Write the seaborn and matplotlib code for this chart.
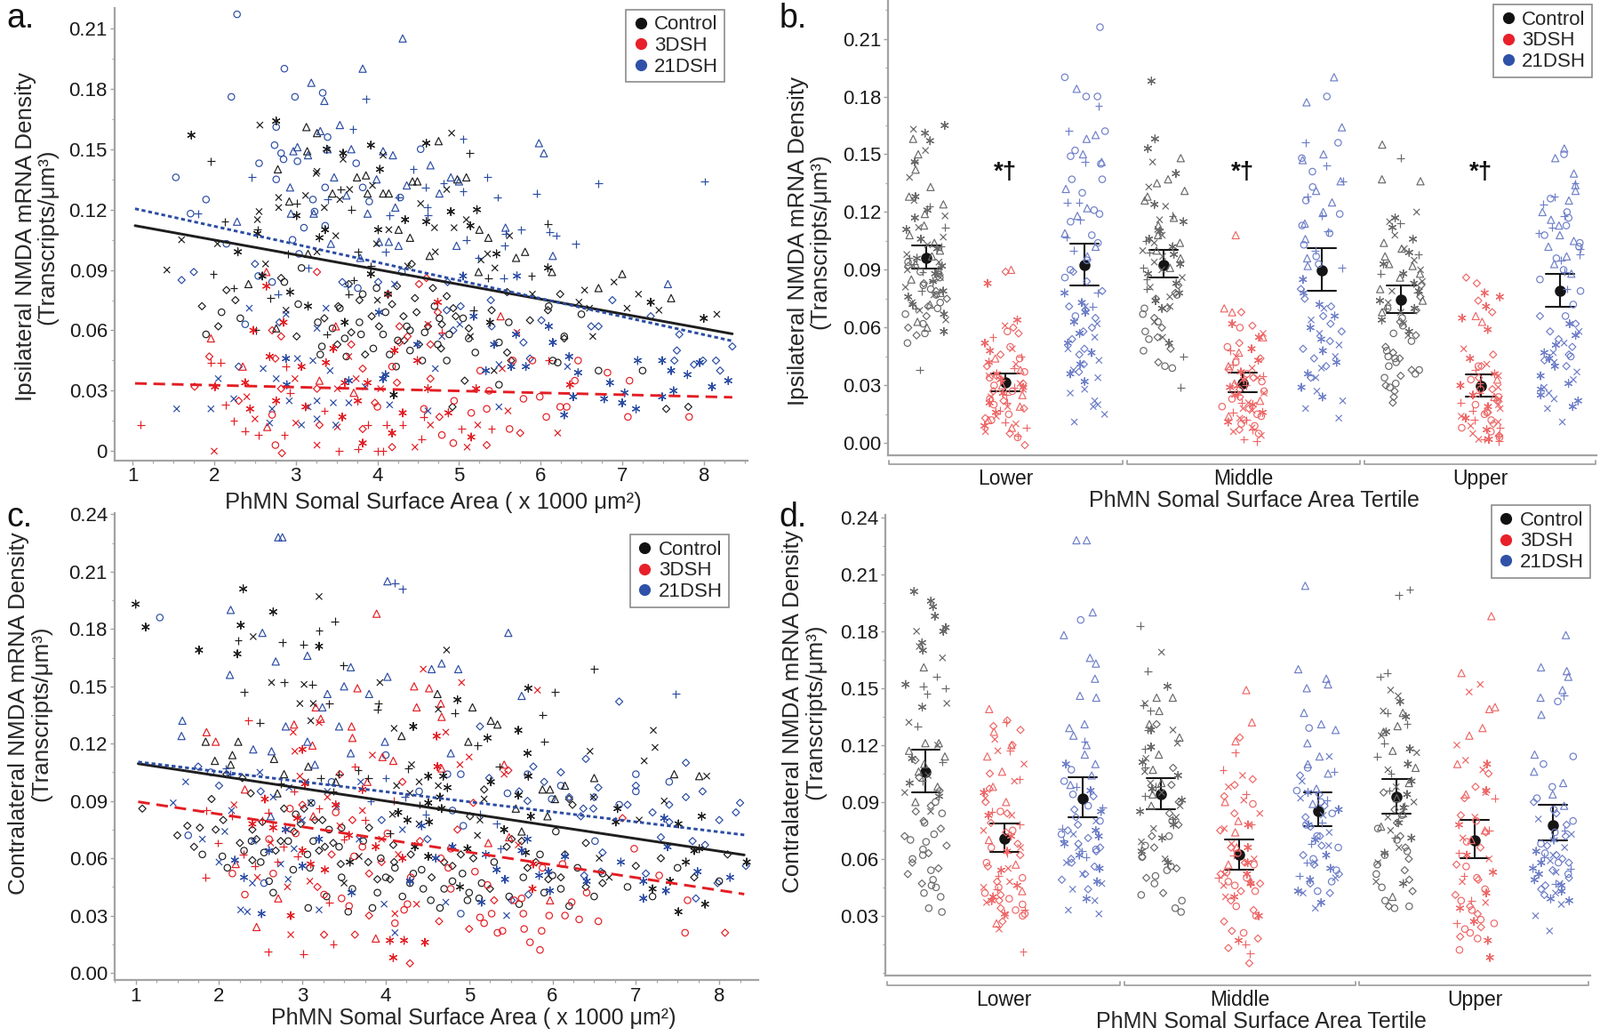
import warnings
warnings.filterwarnings('ignore')
import numpy as np
import pandas as pd
import matplotlib
matplotlib.use('Agg')
import matplotlib.pyplot as plt
from matplotlib.lines import Line2D
from matplotlib.ticker import MultipleLocator
from matplotlib.transforms import blended_transform_factory
import seaborn as sns

sns.set_style('ticks')
REG = ['Liberation Sans', 'DejaVu Sans']
plt.rcParams['font.family'] = REG
np.random.seed(7)

GROUPS = ['Control', '3DSH', '21DSH']
TERTILES = ['Lower', 'Middle', 'Upper']
MK_ORDER = ['d', 'o', 't', 'x', 'p', 'a']
MARKERS = {'t': '^', 'o': 'o', 'd': 'D', 'x': 'x', 'p': '+', 'a': (6, 2, 0)}
MS = {'t': 34, 'o': 28, 'd': 17, 'x': 26, 'p': 40, 'a': 40}

# ---------------- panel a data: (area x100, density x1000) ----------------
a_ctrl = dict(
    t=[(242,83),(278,140),(292,124),(313,161),(326,158),(314,149),(345,128),(375,136),(386,137),(388,128),(407,128),(414,128),(475,154),(443,134),(449,134),(498,135),(509,136),(525,110),(536,106),(581,99),(570,96),(614,89),(524,89),(671,81),(276,61),(315,98),(426,110),(440,106),(464,97),(700,88),(760,76)],
    x=[(142,90),(160,105),(204,103),(256,162),(255,119),(253,115),(263,93),(279,126),(279,121),(312,127),(325,138),(335,121),(366,130),(354,125),(358,145),(326,139),(394,132),(407,147),(491,158),(485,130),(453,123),(509,115),(494,111),(535,98),(562,107),(544,91),(527,95),(590,78),(654,80),(647,74),(660,71),(706,71),(664,57),(514,57),(400,75),(288,70),(326,99),(349,107),(399,103),(414,110),(470,111),(471,99),(437,92),(543,40),(816,68),(690,84),(720,78),(745,70)],
    a=[(172,157),(229,99),(259,87),(276,164),(253,108),(301,117),(338,150),(336,110),(358,148),(392,152),(403,140),(460,153),(490,119),(522,120),(514,112),(546,98),(609,91),(413,78),(392,88),(420,28),(360,64),(315,72),(293,79),(329,106),(401,110),(434,115),(460,114),(538,64),(735,74),(800,66)],
    p=[(196,144),(199,88),(213,114),(224,81),(253,110),(269,76),(251,60),(301,123),(355,130),(368,120),(513,148),(609,113),(589,87),(536,86),(518,70),(338,58),(290,98),(376,99),(392,92),(371,85),(365,78)],
    o=[(209,69),(650,68),(561,64),(671,40),(725,40),(621,44),(549,54),(458,59),(474,53),(512,56),(485,45),(436,62),(407,58),(382,78),(399,81),(440,50),(423,42),(354,71),(360,56),(332,52),(327,64),(303,73),(307,91),(286,84),(476,66),(610,72),(629,57),(549,33),(615,45),
       (330,48),(345,61),(362,47),(378,64),(395,51),(410,69),(425,55),(440,60),(455,45),(470,72),(488,58),(505,66),(520,49),(380,58),(415,48),(190,58),(232,66)],
    d=[(226,75),(559,79),(624,78),(609,70),(587,65),(629,56),(754,21),(781,22),(507,35),(564,45),(485,77),(468,81),(448,69),(451,53),(493,71),(479,63),(424,82),(393,67),(378,75),(432,67),(365,83),(351,53),(301,57),(282,86),(442,93),(559,49),(492,22),
       (335,66),(352,72),(368,59),(385,48),(402,62),(418,73),(433,55),(446,76),(462,62),(478,51),(496,67),(512,61),(540,70),(185,72),(205,62),(215,80)])
a_3dsh = dict(
    t=[(196,56),(235,42),(265,12),(264,89),(329,35),(349,62),(371,29),(551,67)],
    d=[(194,47),(176,32),(230,25),(271,60),(282,57),(326,89),(275,46),(282,31),(283,-1),(326,31),(329,13),(368,53),(382,41),(397,24),(382,11),(418,2),(427,62),(413,78),(427,54),(424,34),(437,57),(460,86),(451,83),(474,69),(465,53),(465,36),(476,17),(534,3),(575,9)],
    a=[(201,32),(238,34),(244,21),(264,82),(248,60),(285,64),(268,47),(307,42),(276,25),(312,22),(337,44),(346,51),(357,17),(360,34),(376,25),(388,34),(382,4),(421,50),(431,19),(418,9),(474,74),(449,45),(462,31),(487,19),(515,7),(521,31),(636,33)],
    x=[(200,0),(240,27),(250,16),(299,36),(300,14),(326,3),(351,31),(351,12),(365,47),(374,36),(404,31),(462,63),(465,13),(446,2),(510,2),(523,13),(553,41),(571,59),(560,20),(621,9)],
    p=[(110,13),(196,44),(208,44),(214,23),(224,15),(238,10),(254,8),(288,42),(293,29),(286,8),(353,0),(335,20),(388,13),(376,1),(407,0),(400,0),(411,13),(431,13),(479,59),(457,17),(454,6),(503,11),(540,11),(610,45)],
    o=[(271,18),(275,3),(400,22),(418,42),(457,21),(479,8),(494,25),(493,4),(515,19),(534,21),(537,30),(526,40),(566,45),(562,11),(579,26),(590,45),(599,27),(607,17),(624,22),(632,22),(642,35),(646,45),(682,39),(707,17),(709,35),(782,17)])
a_21dsh = dict(
    o=[(153,136),(171,118),(221,176),(228,217),(215,103),(255,143),(286,190),(299,176),(333,178),(276,161),(274,152),(282,148),(285,145),(276,135),(302,144),(339,156),(374,143),(453,150),(336,131),(382,131),(321,125),(390,124),(428,126),(323,119),(310,111),(336,112),(296,105),(304,98),(254,87),(271,84),(238,63),(376,81),(430,89),(190,125)],
    t=[(228,114),(319,183),(335,174),(382,190),(431,205),(297,149),(302,151),(315,147),(330,159),(354,162),(339,150),(368,150),(407,149),(419,147),(465,142),(598,153),(604,148),(490,136),(500,134),(476,128),(293,131),(347,136),(399,135),(436,132),(362,127),(422,121),(294,118),(322,118),(388,118),(414,104),(402,104),(426,102),(343,103),(557,111),(615,97),(497,102),(756,83),(379,96)],
    p=[(180,118),(246,136),(386,175),(370,160),(505,155),(444,140),(535,136),(671,133),(595,128),(547,126),(505,129),(481,133),(459,131),(426,126),(339,125),(461,121),(415,117),(462,117),(557,108),(576,110),(611,109),(619,107),(643,103),(556,102),(509,105),(524,96),(801,134),(315,91),(410,99),(278,78),(363,82),(555,86)],
    d=[(160,85),(175,89),(230,42),(250,93),(280,64),(357,84),(401,84),(486,84),(539,75),(502,72),(485,70),(493,60),(540,62),(579,54),(601,65),(587,46),(662,62),(671,62),(688,75),(735,67),(770,58),(767,50),(764,45),(788,43),(799,45),(815,45),(835,52),(820,40)],
    x=[(154,21),(196,21),(205,36),(224,26),(243,71),(288,68),(326,61),(337,71),(421,83),(479,57),(501,63),(549,43),(633,42),(549,22),(415,23),(365,24),(346,24),(326,25),(326,16),(307,13),(315,22),(292,25),(276,36),(260,41),(271,21),(268,14),(302,46),(321,45),(342,40),(349,13),(385,32),(462,20),(471,41)],
    a=[(402,69),(505,87),(571,87),(518,67),(543,53),(570,58),(610,62),(582,42),(615,54),(635,47),(646,39),(719,45),(749,45),(685,34),(703,29),(763,30),(717,21),(700,24),(678,26),(749,27),(640,27),(629,18),(407,36),(289,33),(288,46),(365,35),(410,38),(449,53),(533,40),(564,42),(830,35),(780,38),(810,32),(760,40),(795,44)])

# ---------------- panel c data: (area x100, density x1000) ----------------
c_ctrl = dict(
    t=[(184,121),(223,121),(195,111),(462,146),(504,139),(499,121),(526,132),(534,130),(746,104),(776,103),(650,102),(588,96),(597,96),(615,98),(603,91),(594,82),(556,86),(563,74),(340,100),(307,108),(270,94),(278,104),(266,112),(214,109),(216,114),(419,124)],
    x=[(241,176),(263,152),(320,197),(302,151),(313,141),(297,141),(310,132),(393,152),(410,128),(463,138),(473,169),(645,116),(721,127),(723,118),(710,111),(785,103),(649,92),(734,90),(704,80),(668,50),(656,60),(518,91),(510,72),(513,80),(463,98),(440,100),(431,109),(440,78),(429,94),(413,98),(408,83),(368,61),(350,47),(304,100),(310,89)],
    a=[(100,193),(112,181),(176,169),(229,201),(226,182),(222,167),(265,189),(320,171),(433,129),(486,143),(522,123),(559,127),(570,115),(571,149),(678,86),(676,79),(779,82),(770,64),(776,65),(751,78),(833,58),(751,32),(783,36),(741,48),(571,103),(574,82),(568,63),(559,93),(542,75),(526,100),(498,65),(489,45),(467,86),(465,92),(474,97),(469,103),(451,103),(452,79),(451,61),(451,89),(426,80),(435,66),(415,84),(357,58),(720,44),(760,58)],
    p=[(223,174),(230,147),(276,173),(278,152),(320,179),(301,172),(312,151),(339,184),(249,131),(332,141),(349,161),(391,141),(390,138),(483,136),(510,119),(650,159),(603,147),(588,135),(590,121),(536,108),(427,107),(440,88),(405,73),(379,102),(367,106),(344,104),(337,95),(322,102),(274,99)],
    o=[(204,61),(604,74),(600,51),(498,38),(512,39),(465,34),(454,38),(443,54),(433,52),(429,47),(411,55),(390,42),(394,60),(373,69),(384,34),(360,44),(347,50),(344,66),(355,32),(347,76),(332,75),(313,69),(306,62),(309,55),(329,40),(307,34),(292,83),(283,69),(289,54),(265,42),(254,63),(239,69),
       (470,44),(492,52),(515,47),(530,58),(548,40),(565,50),(585,62),(610,44),(630,55),(650,40),
       (560,36),(590,42),(620,35),(660,52),(690,45),(720,40),(750,55),(800,48),(400,50),(420,40),(445,44),(480,48),(500,42),
       (180,62),(210,55),(230,64),(250,58),(260,48)],
    d=[(108,86),(191,91),(162,77),(177,76),(196,75),(620,91),(624,88),(563,69),(551,70),(518,96),(501,82),(490,62),(409,67),(405,49),(390,49),(380,76),(379,58),(346,57),(337,68),(324,80),(315,80),(327,66),(320,64),(302,86),(298,78),(278,86),(290,74),(274,69),(268,64),(252,79),(245,70),(240,59),(228,102),(209,104),(238,94),
       (480,56),(505,60),(525,44),(545,66),(570,55),(595,49),(615,62),(640,68),(660,47),
       (580,58),(610,50),(640,45),(700,56),(730,60),(770,50),(810,62),(410,58),(430,62),(455,50),(470,58),
       (150,72),(170,66),(205,80),(225,68),(240,75)])
c_3dsh = dict(
    t=[(185,126),(196,121),(220,57),(231,96),(245,24),(271,39),(290,130),(312,119),(316,139),(322,133),(313,82),(366,149),(359,129),(360,123),(389,188),(396,113),(409,111),(378,100),(388,18),(434,150),(437,139),(452,149),(466,141),(467,134),(467,107),(542,109),(523,68),(548,71),(597,38)],
    x=[(218,88),(246,50),(282,45),(286,20),(289,126),(291,116),(297,103),(320,131),(309,48),(384,114),(411,31),(437,36),(472,126),(489,109),(491,152),(500,113),(582,148),(559,67),(542,104),(445,159),(330,92),(345,77),(372,85),(395,70),(282,75),(262,68),(415,62)],
    a=[(286,30),(300,117),(303,99),(294,81),(310,57),(327,54),(372,96),(405,17),(422,17),(409,8),(447,16),(462,108),(461,124),(576,44),(577,57),(265,76),(340,88),(356,72),(388,66),(420,60),(255,91),(240,78),(300,64)],
    p=[(185,85),(184,50),(199,68),(216,82),(235,132),(229,62),(243,56),(259,11),(259,84),(252,80),(277,66),(294,61),(301,10),(337,15),(332,37),(363,108),(320,86),(350,70),(375,80),(410,90),(290,95),(270,58)],
    o=[(216,52),(231,41),(265,52),(292,73),(326,41),(362,61),(347,39),(356,35),(411,26),(422,33),(426,36),(478,44),(466,60),(478,65),(475,55),(507,53),(522,46),(513,29),(527,31),(518,26),(534,21),(540,22),(554,38),(563,39),(565,31),(566,23),(573,16),(585,12),(587,22),(596,30),(615,30),(623,37),(632,28),(641,42),(655,27),(698,65),(588,55),(612,57),(762,38),(759,21),(728,51),(340,84),(372,66),(402,73),(285,86),(260,70),(430,50)],
    d=[(318,45),(326,20),(363,20),(380,30),(429,5),(464,27),(441,69),(486,75),(530,38),(500,23),(547,106),(684,81),(807,21),(505,89),(300,88),(335,62),(360,80),(395,58),(420,100),(380,52),(345,104)])
c_21dsh = dict(
    t=[(156,132),(155,124),(214,190),(213,156),(252,178),(268,163),(271,228),(276,228),(306,166),(330,146),(324,139),(350,150),(358,160),(402,155),(380,146),(402,205),(455,159),(467,162),(487,159),(547,178),(563,145),(241,117),(263,116),(280,129),(306,121),(315,109),(344,129),(358,115),(399,121),(478,115),(262,82)],
    o=[(163,72),(129,186),(400,114),(474,104),(490,104),(546,94),(599,91),(311,89),(493,77),(254,47),(490,31),(651,69),(335,100),(440,95),(480,85),(570,104),(610,98),(700,95),(700,104),(680,88),(740,100),(190,105)],
    p=[(411,204),(420,201),(748,146),(208,107),(213,104),(400,102),(423,92),(382,90),(448,83),(513,83),(533,78),(538,65)],
    d=[(680,142),(513,129),(524,102),(577,108),(570,90),(551,38),(571,41),(649,86),(638,51),(658,53),(660,63),(712,52),(730,71),(740,79),(768,69),(783,67),(772,39),(798,47),(825,89),(832,56),(637,86),(634,82),(395,80),(450,70),(250,95),
       (560,95),(590,100),(620,92),(655,97),(690,88),(720,84),(760,92),(800,80),(640,112),(760,110),(610,105),(650,92),(700,98),(740,88),(780,95),(820,84),(175,108),(200,98)],
    x=[(145,89),(249,105),(265,92),(284,97),(341,87),(207,74),(241,69),(240,47),(226,33),(234,32),(274,57),(283,49),(290,65),(320,33),(368,70),(398,36),(411,21),(472,37),(545,30),(370,100),(330,95),(420,75),(300,80),(180,70),(200,58),(215,85),(160,100)],
    a=[(443,77),(570,70),(563,64),(543,49),(533,54),(584,51),(595,53),(597,43),(615,61),(641,48),(682,58),(709,48),(709,39),(736,43),(738,66),(774,53),(813,50),(734,81),(219,59),(251,31),(359,42),(429,48),(515,37),(460,60),(480,66),(520,62),
       (230,50),(260,64),(280,75),(300,56),(320,70)])

# ---------------- panel b data: density x1000 per tertile / group ----------------
b_lower_ctrl = dict(t=[158,150,142,133,128,124,119,113,108,104,100,97,93,90,85,78,72,63,60],
    a=[165,161,157,146,128,121,117,111,106,101,96,92,88,84,79,76,72,67,58],
    x=[163,152,138,126,118,112,107,103,98,94,90,86,81,77,73,69,64],
    p=[146,123,112,102,96,93,89,84,79,70,38], o=[94,89,86,82,80,77,73,70,67,62,57,52], d=[92,88,83,79,75,71,66,60,56])
b_lower_3dsh = dict(t=[90,44,38,30,25,19,12,8], d=[89,60,57,46,40,35,31,27,22,18,13,5,-1],
    a=[83,64,52,48,42,36,33,29,26,21,16,9], o=[58,50,44,37,34,30,27,23,20,15,12,3],
    x=[61,49,41,35,31,28,24,19,14,10,6], p=[55,45,39,33,29,25,21,17,11,8,4])
b_lower_21dsh = dict(o=[216,190,180,180,162,152,149,145,137,137,130,121,119,115,108,104,95,90,86,66],
    t=[184,160,158,150,146,132,122,118,109,102,97], p=[175,162,146,125,125,116,107,100,78,71],
    d=[89,84,79,71,69,65,60,58,54,49,46,41,37], x=[71,62,55,49,43,38,34,28,26,22,20,19,15,11],
    a=[78,73,68,63,57,52,47,41,36,32])
b_mid_ctrl = dict(t=[148,137,135,131,128,126,117,113,108,104,100,96,91],
    a=[188,158,153,140,124,115,110,106,102,98,93,88,83,78,74,70,52],
    x=[146,133,123,116,111,108,104,100,97,94,90,86,81,76,71,63,55],
    p=[118,105,99,91,85,80,45,29], o=[77,70,67,63,58,54,48,40,39], d=[82,78,75,70,65,60,55,49,42])
b_mid_3dsh = dict(t=[108,70,68,55,47,40,31,22,14], a=[62,55,49,43,37,33,29,25,20,16,11],
    d=[68,61,52,44,38,34,28,24,18,12,7], o=[60,50,42,36,32,27,23,19,15,14,10,9,5],
    x=[57,45,39,34,30,26,21,18,17,13,8,6,4], p=[48,41,35,30,25,21,16,12,7,2,1])
b_mid_21dsh = dict(t=[190,177,164,150,147,136,131,125,120,114,106,96,92],
    o=[180,156,148,141,133,126,119,113,109,103,97,93], p=[156,144,136,128,118,110,100,91],
    d=[80,75,71,66,62,58,53,49,44,40,34], x=[70,64,57,51,45,39,34,27,22,18,13],
    a=[85,78,72,66,60,54,48,42,36,29,24])
b_up_ctrl = dict(t=[155,137,136,104,101,97,93,92,88,86,80,74,68], p=[148,114,98,88,78,70],
    a=[117,112,106,99,93,88,83,79,74,70,64,58], x=[120,115,108,101,95,90,84,79,73,68,62,56],
    o=[70,65,61,57,53,48,45,44,42,40,38,36,34,31,29], d=[82,76,69,63,56,50,47,44,38,35,30,27,24,21])
b_up_3dsh = dict(d=[86,83,74,68,46,40,34,28,22,16,10,4], a=[78,76,71,65,59,44,36,30,25,19,13,7,2],
    t=[66,63,33,24], x=[49,41,35,29,23,20,18,14,11,9,5,2], o=[40,33,28,24,20,16,15,12,8,6,3],
    p=[38,31,26,21,17,12,8,4,2,1])
b_up_21dsh = dict(t=[153,148,140,134,131,126,120,116,113,108,105,102,97,93,88],
    o=[150,127,120,117,113,108,104,102,96,90,85,79,72,66,45], p=[135,128,124,118,112,109,101,98,95,89,80],
    d=[66,62,58,54,50,46,43,40], a=[62,56,51,47,44,40,35,31,28,25,22,19], x=[58,52,47,42,37,33,29,26,23,18,11])

# ---------------- panel d data: density x1000 per tertile / group ----------------
d_lower_ctrl = dict(a=[201,196,193,188,182,180,174,170,152,140,113,100,93], p=[156,151,150,147,130,111,101],
    t=[161,121,121,117,114,110,106,98,90], x=[180,172,166,142,132,120,104,95,85],
    d=[112,103,96,88,85,80,76,72,67,63,58,55,52,47], o=[90,84,79,73,70,69,65,62,60,54,49,46,45,42,40,34,32])
d_lower_3dsh = dict(t=[139,127,120,114,106,98,90,70,57,43,26],
    d=[133,130,128,120,105,97,90,84,79,74,68,62,56,48,41,38,34,27], x=[123,117,110,101,92,83,75,66,55,48,45,37,30,23],
    p=[132,117,102,85,78,63,51,44,33,11], o=[85,75,66,58,50,45,42,39,36,33,31,30], a=[95,83,72,64,54,46,40,38,31])
d_lower_21dsh = dict(t=[228,228,190,178,166,163,155,146,145,131,129,125,120,115,110,104,99],
    o=[186,107,101,94,88,80,73,65], d=[93,86,82,78,75,71,68,66,64,60,58,56,52,49,44],
    p=[122,98,87,76,70,64,61], x=[80,73,66,58,52,47,44,38,33,31], a=[110,96,85,75,72,68,62,55,48,39])
d_mid_ctrl = dict(x=[169,142,128,121,113,106,100,95,88,82,76,69,60], p=[183,159,141,138,128,118,108,98,93,81],
    t=[145,145,138,131,124,115,107,100,94,88], a=[151,128,119,111,104,97,91,85,78,71,64,58],
    o=[80,72,67,61,56,54,51,47,41,38,34,32], d=[131,108,99,90,84,78,72,66,61,55,50,42])
d_mid_3dsh = dict(t=[149,132,122,90,80,74,66,57,48], d=[124,102,99,93,84,75,66,58,52,47,43,38,33,27,22,18,13,5],
    p=[116,107,94,78,62,50,15,10], x=[104,98,91,84,76,68,60,52,46,40], o=[89,63,57,53,50,48,46,43,35,30,21],
    a=[78,66,58,52,47,40,30,17])
d_mid_21dsh = dict(t=[204,160,155,152,150,137,131,128,121,114,110,105,97,89],
    o=[129,108,96,90,84,78,72,66,60,54,48,43], d=[104,94,88,82,77,72,67,62,57,52,47,42],
    x=[114,101,92,83,74,67,58,50,42,34], a=[95,86,78,70,62,55,49,43,37], p=[106,91,79,68,58,51])
d_up_ctrl = dict(p=[202,199,158,156,137,131,121,114,105,96,88,80,71], x=[149,146,138,125,116,107,98,90,82,75,66,58,48],
    a=[143,135,127,118,110,101,94,87,79,71,63,47], t=[137,130,127,117,108,100,92,84,77,40],
    o=[83,76,70,64,62,57,52,45,38,35,34], d=[95,86,79,72,66,60,54,49,43,35])
d_up_3dsh = dict(t=[188,158,140,139,129,125,110,94,75,70], x=[152,148,120,112,107,95,82,71,60,48,37],
    d=[105,98,92,83,74,66,57,49,41,35,31,24,19], o=[80,69,56,50,44,38,33,28,26,23,21,18,12],
    a=[110,96,78,62,53,42,34,27,17,8], p=[92,75,63,51,38,26])
d_up_21dsh = dict(t=[178,161,159,156,149,145,136,115,106,100,94,88], o=[143,114,110,98,92,86,80,74,68,63,58,52],
    d=[90,84,78,72,67,62,60,58,54,50,46,44,41], x=[81,73,66,62,59,53,47,42,36,30,22],
    a=[70,64,58,55,52,49,46,43,39,38], p=[146,75,61,55,47])

A_YTICKS = [0, 0.03, 0.06, 0.09, 0.12, 0.15, 0.18, 0.21]
B_YTICKS = [0.00, 0.03, 0.06, 0.09, 0.12, 0.15, 0.18, 0.21]
C_YTICKS = [0.00, 0.03, 0.06, 0.09, 0.12, 0.15, 0.18, 0.21, 0.24]
D_YTICKS = [0.03, 0.06, 0.09, 0.12, 0.15, 0.18, 0.21, 0.24]
X_TICKS = [1, 2, 3, 4, 5, 6, 7, 8]

SC_PAL = {'Control': '#1e1e1e', '3DSH': '#e31e24', '21DSH': '#2b4ca3'}
ST_PAL = {'Control': '#696969', '3DSH': '#ee6767', '21DSH': '#6e7fc8'}
LEG_COL = ['#111111', '#e8202a', '#2f51a8']
LINE_STYLE = {'Control': '-', '3DSH': (0, (4.5, 2.6)), '21DSH': (0, (1.5, 1.1))}
SPINE = '#a3a3a3'
SLOTS = [f'{t}|{g}' for t in TERTILES for g in GROUPS]
TICK_FS = 16


def scatter_frame(groups):
    rows = []
    for g, dd in zip(GROUPS, groups):
        for m, pts in dd.items():
            for x, y in pts:
                rows.append((g, m, x / 100, y / 1000))
    return pd.DataFrame(rows, columns=['group', 'mk', 'area', 'dens'])


def strip_frame(strips):
    rows = []
    for (t, g, dd) in strips:
        for m, vals in dd.items():
            for v in vals:
                rows.append((f'{t}|{g}', g, m, v / 1000))
    return pd.DataFrame(rows, columns=['slot', 'group', 'mk', 'dens'])


def open_markers(ax, lw=0.85):
    for coll in ax.collections:
        fc = coll.get_facecolors()
        if len(fc) == 0:
            continue
        coll.set_edgecolors(fc.copy())
        coll.set_facecolors('none')
        coll.set_linewidths(lw)


def style_axes(ax):
    for s in ['top', 'right']:
        ax.spines[s].set_visible(False)
    for s in ['left', 'bottom']:
        ax.spines[s].set_color(SPINE)
        ax.spines[s].set_linewidth(1.6)
    ax.tick_params(which='both', direction='out', color=SPINE, labelsize=TICK_FS, labelcolor='#1a1a1a', pad=2)
    ax.tick_params(which='major', length=3.5, width=1)
    ax.tick_params(which='minor', length=2.2, width=0.8)


def add_legend(ax, anchor):
    handles = [Line2D([], [], ls='none', marker='o', ms=8.5, color=c) for c in LEG_COL]
    leg = ax.legend(handles, GROUPS, loc='upper right', bbox_to_anchor=anchor, frameon=True, fancybox=False,
                    edgecolor='#8c8c8c', framealpha=1, fontsize=16, handletextpad=0.25, labelspacing=0.12,
                    borderpad=0.3, handlelength=0.9, borderaxespad=0)
    leg.get_frame().set_linewidth(1.2)


def draw_scatter(ax, df, fit_range, xlim, ylim, yticks, ylabels):
    for m in MK_ORDER:
        sub = df[df.mk == m]
        sns.scatterplot(data=sub, x='area', y='dens', hue='group', hue_order=GROUPS, palette=SC_PAL,
                        marker=MARKERS[m], s=MS[m], ax=ax, legend=False)
    open_markers(ax)
    ax.set_xlim(*fit_range)
    for g in GROUPS:
        sns.regplot(data=df[df.group == g], x='area', y='dens', scatter=False, ci=None, truncate=False,
                    color=SC_PAL[g], line_kws=dict(lw=2.1, ls=LINE_STYLE[g]), ax=ax)
    ax.set_xlim(*xlim)
    ax.set_ylim(*ylim)
    ax.set_xticks(X_TICKS, [str(v) for v in X_TICKS])
    ax.set_yticks(yticks, ylabels)
    ax.xaxis.set_minor_locator(MultipleLocator(0.25))
    ax.yaxis.set_minor_locator(MultipleLocator(0.015))
    style_axes(ax)


def draw_strip(ax, df, xlim, ylim, yticks):
    for m in MK_ORDER:
        sub = df[df.mk == m]
        sns.stripplot(data=sub, x='slot', y='dens', order=SLOTS, hue='group', hue_order=GROUPS,
                      palette=ST_PAL, marker=MARKERS[m], size=np.sqrt(MS[m]), jitter=0.27,
                      ax=ax, legend=False)
    open_markers(ax)
    sns.pointplot(data=df, x='slot', y='dens', order=SLOTS, color='#151515', errorbar=('ci', 95), seed=3,
                  capsize=0.36, marker='o', markersize=7, linestyle='none',
                  err_kws={'linewidth': 1.5}, ax=ax)
    ax.set_xlim(*xlim)
    ax.set_ylim(*ylim)
    ax.set_yticks(yticks, [f'{v:.2f}' for v in yticks])
    ax.yaxis.set_minor_locator(MultipleLocator(0.015))
    style_axes(ax)
    ax.set_xticks([1, 4, 7], TERTILES)
    ax.tick_params(axis='x', which='both', length=0, pad=11, labelsize=16.5)
    tr = blended_transform_factory(ax.transData, ax.transAxes)
    for x0, x1 in [(xlim[0] + 0.02, 2.48), (2.53, 5.48), (5.53, xlim[1] - 0.02)]:
        ax.plot([x0, x0, x1, x1], [-0.012, -0.02, -0.02, -0.012], color=SPINE, lw=1.3,
                transform=tr, clip_on=False)


fig = plt.figure(figsize=(18, 11.65), dpi=100)
ax_a = fig.add_axes([0.0714, 0.5556, 0.3960, 0.4366])
ax_b = fig.add_axes([0.5548, 0.5605, 0.4432, 0.4395])
ax_c = fig.add_axes([0.0714, 0.0541, 0.4024, 0.4503])
ax_d = fig.add_axes([0.5536, 0.0580, 0.4401, 0.4454])

YL_FS = 18.7

# a
df_a = scatter_frame([a_ctrl, a_3dsh, a_21dsh])
draw_scatter(ax_a, df_a, (1.03, 8.35), (0.775, 8.54), (-0.0046, 0.2201), A_YTICKS,
             ['0'] + [f'{v:.2f}' for v in A_YTICKS[1:]])
add_legend(ax_a, (0.963, 0.997))
ax_a.set_ylabel('Ipsilateral NMDA mRNA Density\n(Transcripts/μm³)', fontsize=YL_FS, linespacing=1.05)
ax_a.yaxis.set_label_coords(-0.088, 0.495)
ax_a.set_xlabel('PhMN Somal Surface Area ( x 1000 μm²)', fontsize=18.5)
ax_a.xaxis.set_label_coords(0.504, -0.07)

# b
df_b = strip_frame([('Lower', 'Control', b_lower_ctrl), ('Lower', '3DSH', b_lower_3dsh), ('Lower', '21DSH', b_lower_21dsh),
                    ('Middle', 'Control', b_mid_ctrl), ('Middle', '3DSH', b_mid_3dsh), ('Middle', '21DSH', b_mid_21dsh),
                    ('Upper', 'Control', b_up_ctrl), ('Upper', '3DSH', b_up_3dsh), ('Upper', '21DSH', b_up_21dsh)])
draw_strip(ax_b, df_b, (-0.49, 8.47), (-0.0063, 0.2301), B_YTICKS)
add_legend(ax_b, (0.993, 0.99))
for s in [1, 4, 7]:
    ax_b.text(s, 0.1405, '*†', ha='center', va='center', fontsize=20, fontweight='bold', color='#111111')
ax_b.set_ylabel('Ipsilateral NMDA mRNA Density\n(Transcripts/μm³)', fontsize=YL_FS, linespacing=1.05)
ax_b.yaxis.set_label_coords(-0.080, 0.47)
ax_b.set_xlabel('PhMN Somal Surface Area Tertile', fontsize=18)
ax_b.xaxis.set_label_coords(0.517, -0.076)

# c
df_c = scatter_frame([c_ctrl, c_3dsh, c_21dsh])
draw_scatter(ax_c, df_c, (1.03, 8.3), (0.743, 8.466), (-0.0037, 0.2405), C_YTICKS,
             [f'{v:.2f}' for v in C_YTICKS])
add_legend(ax_c, (0.954, 0.955))
ax_c.set_ylabel('Contralateral NMDA mRNA Density\n(Transcripts/μm³)', fontsize=YL_FS, linespacing=1.05)
ax_c.yaxis.set_label_coords(-0.097, 0.572)
ax_c.set_xlabel('PhMN Somal Surface Area ( x 1000 μm²)', fontsize=18)
ax_c.xaxis.set_label_coords(0.558, -0.06)

# d
df_d = strip_frame([('Lower', 'Control', d_lower_ctrl), ('Lower', '3DSH', d_lower_3dsh), ('Lower', '21DSH', d_lower_21dsh),
                    ('Middle', 'Control', d_mid_ctrl), ('Middle', '3DSH', d_mid_3dsh), ('Middle', '21DSH', d_mid_21dsh),
                    ('Upper', 'Control', d_up_ctrl), ('Upper', '3DSH', d_up_3dsh), ('Upper', '21DSH', d_up_21dsh)])
draw_strip(ax_d, df_d, (-0.51, 8.47), (-0.0017, 0.2416), D_YTICKS)
add_legend(ax_d, (1.0, 1.02))
ax_d.set_ylabel('Contralateral NMDA mRNA Density\n(Transcripts/μm³)', fontsize=YL_FS, linespacing=1.05)
ax_d.yaxis.set_label_coords(-0.085, 0.572)
ax_d.set_xlabel('PhMN Somal Surface Area Tertile', fontsize=18)
ax_d.xaxis.set_label_coords(0.533, -0.076)

for txt, x, y in [('a.', 0.004, 0.997), ('b.', 0.487, 0.997), ('c.', 0.004, 0.516), ('d.', 0.487, 0.516)]:
    fig.text(x, y, txt, fontsize=27, va='top', ha='left', color='#111111')

fig.savefig('out.png', dpi=100)
